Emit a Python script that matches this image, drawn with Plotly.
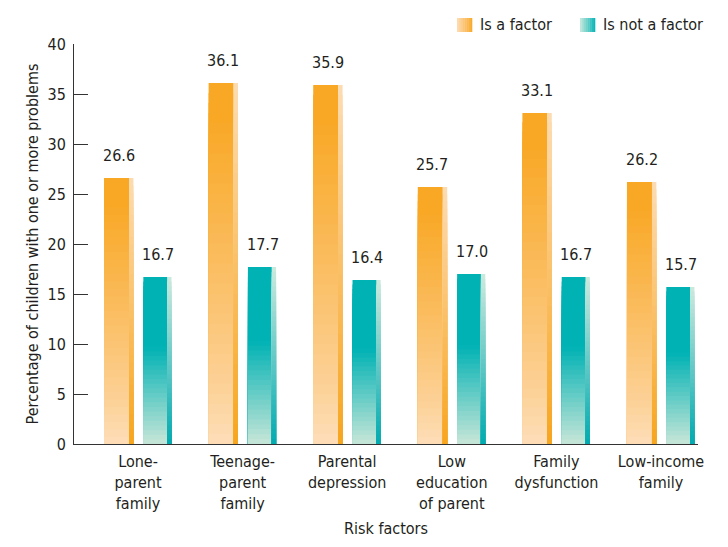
import plotly.graph_objects as go

# ---- data ----
categories = ["Lone-<br>parent<br>family", "Teenage-<br>parent<br>family", "Parental<br>depression",
              "Low<br>education<br>of parent", "Family<br>dysfunction", "Low-income<br>family"]
is_factor = [26.6, 36.1, 35.9, 25.7, 33.1, 26.2]
not_factor = [16.7, 17.7, 16.4, 17.0, 16.7, 15.7]
series_names = ["Is a factor", "Is not a factor"]
y_ticks = [0, 5, 10, 15, 20, 25, 30, 35, 40]

FONT = "Liberation Sans Narrow, Arial Narrow, DejaVu Sans Condensed, sans-serif"
TXT = "#231f20"
N = 36

def mix(a, b, t):
    t = max(0.0, min(1.0, t))
    return "rgb(%d,%d,%d)" % tuple(round(a[i] + (b[i] - a[i]) * t) for i in range(3))

OR_TOP, OR_BOT = (249, 168, 38), (253, 222, 186)
TE_TOP, TE_BOT = (0, 178, 180), (200, 230, 216)
ORS_TOP, ORS_BOT = (253, 220, 178), (247, 165, 30)
TES_TOP, TES_BOT = (205, 234, 222), (0, 170, 176)

def or_col(t):  # t = fraction from bottom
    return mix(OR_BOT, OR_TOP, (t / 0.9) ** 0.85)

def te_col(t):
    return mix(TE_BOT, TE_TOP, t / 0.58)

def ors_col(t):
    return mix(ORS_BOT, ORS_TOP, t)

def tes_col(t):
    return mix(TES_BOT, TES_TOP, t)

xpos = list(range(len(categories)))
fig = go.Figure()

# geometry (in category units)
MAIN_W, STRIP_W = 0.239, 0.042
specs = [
    (is_factor, -0.325, or_col, -0.086, ors_col),
    (not_factor, 0.051, te_col, 0.278, tes_col),
]
for vals, off_main, colf, off_strip, scolf in specs:
    for k in range(N):
        frac = 1 - k / N
        mid = 1 - (k + 0.5) / N
        fig.add_trace(go.Bar(x=xpos, y=[v * frac for v in vals], width=MAIN_W, offset=off_main,
                             marker=dict(color=colf(mid), line=dict(width=0)),
                             showlegend=False, hoverinfo="skip"))
    for k in range(N):
        frac = 1 - k / N
        mid = 1 - (k + 0.5) / N
        fig.add_trace(go.Bar(x=xpos, y=[v * frac for v in vals], width=STRIP_W, offset=off_strip,
                             marker=dict(color=scolf(mid), line=dict(width=0)),
                             showlegend=False, hoverinfo="skip"))

# value labels
for vals, off_main in [(is_factor, -0.325), (not_factor, 0.051)]:
    for i, v in enumerate(vals):
        fig.add_annotation(x=i + off_main + (MAIN_W + STRIP_W) / 2, y=v, text="%.1f" % v,
                           showarrow=False, yanchor="bottom", yshift=11,
                           font=dict(family=FONT, size=16, color=TXT))

# pixel helpers for legend
L, R, T, B = 74, 698, 44, 444
def px(x): return (x - L) / (R - L)
def py(y): return (B - y) / (B - T)

shapes = []
for x0, c0, c1, name in [(457, OR_BOT, OR_TOP, series_names[0]), (580, TES_TOP, TE_TOP, series_names[1])]:
    steps = 8
    w = 15 / steps
    for s in range(steps):
        shapes.append(dict(type="rect", xref="paper", yref="paper",
                           x0=px(x0 + s * w), x1=px(x0 + (s + 1) * w + 0.3),
                           y0=py(32), y1=py(18), line=dict(width=0),
                           fillcolor=mix(c0, c1, (s + 0.5) / steps)))
    fig.add_annotation(xref="paper", yref="paper", x=px(x0 + 21), y=py(25), text=name,
                       showarrow=False, xanchor="left", yanchor="middle",
                       font=dict(family=FONT, size=16, color=TXT))

fig.update_layout(
    width=728, height=547, barmode="overlay",
    margin=dict(l=L, r=728 - R, t=T, b=547 - B),
    paper_bgcolor="white", plot_bgcolor="white",
    shapes=shapes, showlegend=False,
    font=dict(family=FONT, size=16, color=TXT),
    xaxis=dict(range=[-0.612, 5.354], tickvals=xpos, ticktext=categories,
               showline=True, linecolor="#333", linewidth=1, ticks="", showgrid=False,
               zeroline=False, tickfont=dict(family=FONT, size=16, color=TXT),
               ticklabelstandoff=3, automargin=False,
               title=dict(text="Risk factors", font=dict(family=FONT, size=16, color=TXT), standoff=11)),
    yaxis=dict(range=[0, 40], tickvals=y_ticks, showline=True, linecolor="#333", linewidth=1,
               ticks="inside", ticklen=14, tickcolor="#333", showgrid=False, zeroline=False,
               tickfont=dict(family=FONT, size=16, color=TXT), ticklabelstandoff=4, automargin=False,
               title=dict(text="Percentage of children with one or more problems",
                          font=dict(family=FONT, size=16, color=TXT), standoff=4)),
)
fig.write_html("out.html")
